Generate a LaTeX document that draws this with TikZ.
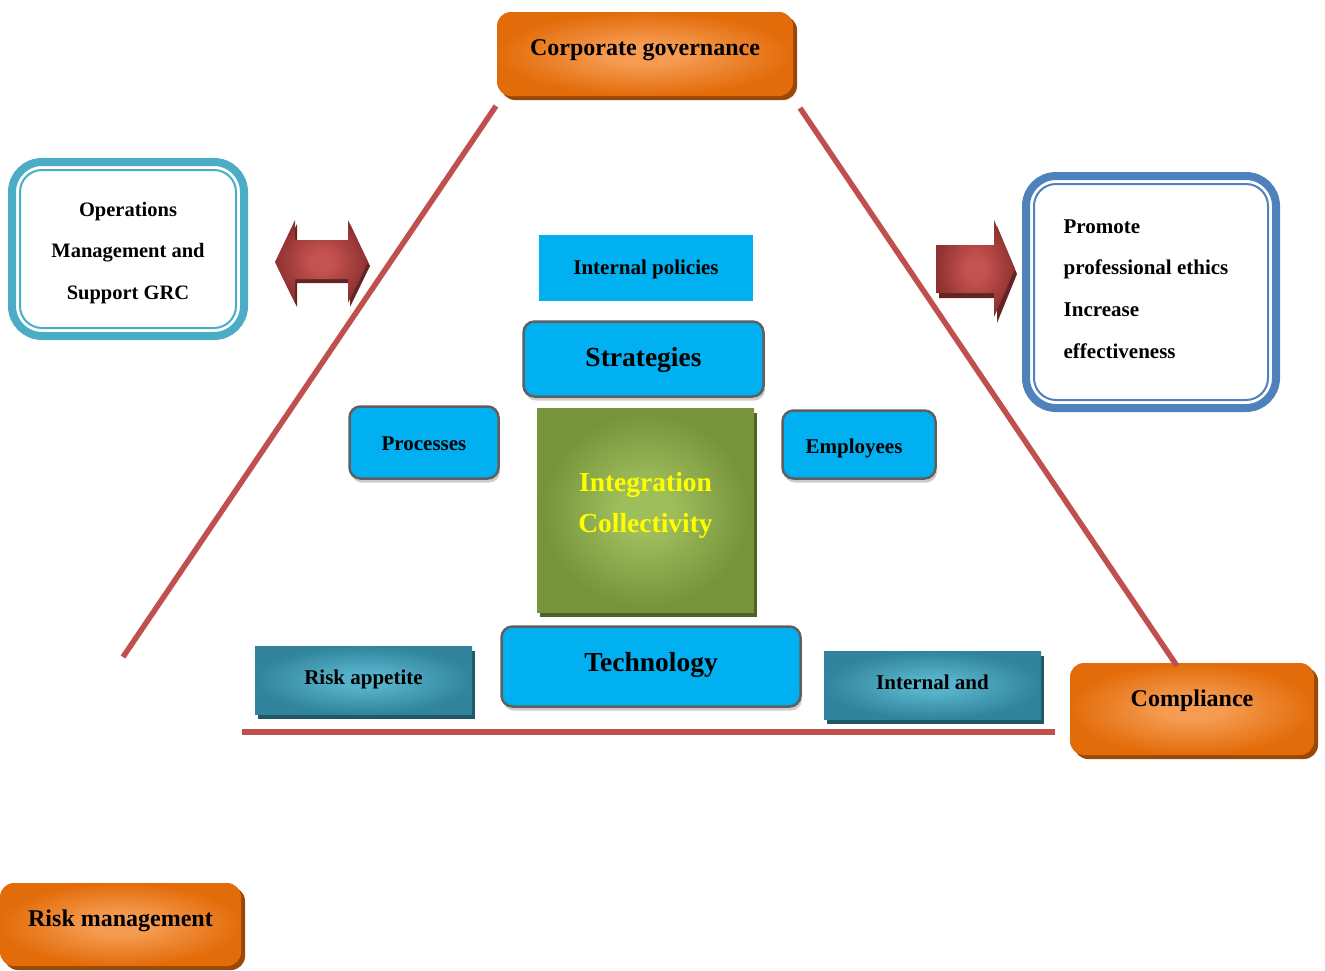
\documentclass[tikz,border=0pt]{standalone}
\usepackage{fontspec}
\setmainfont{Liberation Serif}
\usetikzlibrary{shadows}
\definecolor{ordark}{HTML}{E36C0A}
\definecolor{orlight}{HTML}{F59C52}
\definecolor{orshadow}{HTML}{984807}
\definecolor{bluefill}{HTML}{00B0F0}
\definecolor{blueborder}{HTML}{5F5F5F}
\definecolor{grdark}{HTML}{77933C}
\definecolor{grlight}{HTML}{9EBE5C}
\definecolor{grshadow}{HTML}{4F6228}
\definecolor{tldark}{HTML}{31849B}
\definecolor{tllight}{HTML}{55B2CA}
\definecolor{tlshadow}{HTML}{215868}
\definecolor{rddark}{HTML}{8E3230}
\definecolor{rdlight}{HTML}{C4524F}
\definecolor{rdshadow}{HTML}{632523}
\definecolor{linered}{HTML}{C0504D}
\definecolor{opsborder}{HTML}{4BACC6}
\definecolor{proborder}{HTML}{4F81BD}
\definecolor{yel}{HTML}{FFFF00}
\pgfdeclareradialshading{orsh}{\pgfpoint{0bp}{0bp}}{color(0bp)=(orlight); color(6bp)=(orlight); color(25bp)=(ordark); color(50bp)=(ordark)}
\pgfdeclareradialshading{grsh}{\pgfpoint{0bp}{0bp}}{color(0bp)=(grlight); color(6bp)=(grlight); color(24bp)=(grdark); color(50bp)=(grdark)}
\pgfdeclareradialshading{tlsh}{\pgfpoint{0bp}{0bp}}{color(0bp)=(tllight); color(6bp)=(tllight); color(25bp)=(tldark); color(50bp)=(tldark)}
\pgfdeclareradialshading{rdsh}{\pgfpoint{0bp}{0bp}}{color(0bp)=(rdlight); color(6bp)=(rdlight); color(25bp)=(rddark); color(50bp)=(rddark)}
\begin{document}
\begin{tikzpicture}[x=1pt,y=1pt,
  orangebox/.style={rounded corners=14pt, shade, shading=orsh, inner sep=0pt,
    drop shadow={shadow xshift=4pt, shadow yshift=-4pt, opacity=1, fill=orshadow}},
  bluebox/.style={rounded corners=11pt, fill=bluefill, draw=blueborder, line width=2.5pt, inner sep=0pt,
    drop shadow={shadow xshift=1.5pt, shadow yshift=-4pt, opacity=1, fill=black!20}},
  tealbox/.style={shade, shading=tlsh, inner sep=0pt,
    drop shadow={shadow xshift=3pt, shadow yshift=-5pt, opacity=1, fill=tlshadow}},
  greenbox/.style={shade, shading=grsh, inner sep=0pt,
    drop shadow={shadow xshift=3pt, shadow yshift=-5pt, opacity=1, fill=grshadow}},
  dblbox/.style={rounded corners=30pt, line width=8pt, fill=white, outer sep=0pt, inner sep=0pt},
  txa/.style={font=\bfseries\fontsize{24}{28}\selectfont, inner sep=0pt, text=black},
  txb/.style={font=\bfseries\fontsize{27.5}{32}\selectfont, inner sep=0pt, text=black},
  txc/.style={font=\bfseries\fontsize{21}{25}\selectfont, inner sep=0pt, text=black},
  redline/.style={draw=linered, line width=5.5pt}
]
\useasboundingbox (0,0) rectangle (1325,-970);

% orange boxes
\node[orangebox, minimum width=296pt, minimum height=84pt] (corp) at (645,-54) {};
\node[txa] (corpt) at ([yshift=4pt]corp.center) {Corporate governance};
\node[orangebox, minimum width=244pt, minimum height=92pt] (comp) at (1192,-709) {};
\node[txa] (compt) at ([yshift=8pt]comp.center) {Compliance};
\node[orangebox, minimum width=241pt, minimum height=83pt] (risk) at (120.5,-924.5) {};
\node[txa] (riskt) at ([yshift=3.5pt]risk.center) {Risk management};

% double-bordered boxes
\node[dblbox, draw=opsborder, minimum width=232pt, minimum height=174pt] (ops) at (128,-249) {};
\draw[opsborder, line width=2pt, rounded corners=22pt]
  ([shift={(8pt,-8pt)}]ops.north west) rectangle ([shift={(-8pt,8pt)}]ops.south east);
\node[align=center, inner sep=0pt, font=\bfseries\fontsize{20.5}{41.5}\selectfont] (opst)
  at ([yshift=-4pt]ops.center) {Operations\\Management and\\Support GRC};
\node[dblbox, draw=proborder, minimum width=250pt, minimum height=232pt] (pro) at (1151,-292) {};
\draw[proborder, line width=2pt, rounded corners=22pt]
  ([shift={(8pt,-8pt)}]pro.north west) rectangle ([shift={(-8pt,8pt)}]pro.south east);
\node[align=left, inner sep=0pt, font=\bfseries\fontsize{21}{41.7}\selectfont] (prot)
  at ([xshift=-5pt,yshift=3pt]pro.center) {Promote\\professional ethics\\Increase\\effectiveness};

% block arrows
\fill[rdshadow] (277,-266) -- (297,-224) -- (297,-244) -- (350,-244) -- (350,-224) -- (370,-266)
  -- (350,-307) -- (350,-283) -- (297,-283) -- (297,-307) -- cycle;
\shade[shading=rdsh] (275,-262) -- (295,-220) -- (295,-240) -- (348,-240) -- (348,-220) -- (368,-262)
  -- (348,-303) -- (348,-279) -- (295,-279) -- (295,-303) -- cycle;
\fill[rdshadow] (939,-250) -- (997,-250) -- (997,-226) -- (1017,-274) -- (997,-323) -- (997,-298) -- (939,-298) -- cycle;
\shade[shading=rdsh] (936,-245) -- (994,-245) -- (994,-220) -- (1015,-269) -- (994,-317) -- (994,-293) -- (936,-293) -- cycle;

% centre blocks
\node[fill=bluefill, minimum width=214pt, minimum height=66pt, inner sep=0pt] (pol) at (646,-268) {};
\node[txc] (polt) at ([yshift=-1pt]pol.center) {Internal policies};
\node[bluebox, minimum width=240pt, minimum height=75pt] (str) at (643.5,-359) {};
\node[txb] (strt) at ([yshift=-1pt]str.center) {Strategies};
\node[bluebox, minimum width=149pt, minimum height=72pt] (proc) at (424,-442.5) {};
\node[txc] (proct) at ([yshift=-1pt]proc.center) {Processes};
\node[bluebox, minimum width=153pt, minimum height=68pt] (emp) at (859,-444.5) {};
\node[txc] (empt) at ([xshift=-5pt,yshift=-3.5pt]emp.center) {Employees};
\node[greenbox, minimum width=217pt, minimum height=204pt] (grn) at (645.5,-510) {};
\node[font=\bfseries\fontsize{27.5}{41.3}\selectfont, text=yel, align=center, inner sep=0pt] (grnt)
  at ([yshift=4.5pt]grn.center) {Integration\\Collectivity};
\node[bluebox, minimum width=299pt, minimum height=80pt] (tech) at (651,-666.5) {};
\node[txb] (techt) at ([yshift=2pt]tech.center) {Technology};
\node[tealbox, minimum width=217pt, minimum height=68pt] (app) at (363.5,-680) {};
\node[txc] (appt) at ([yshift=1pt]app.center) {Risk appetite};
\node[tealbox, minimum width=217pt, minimum height=68pt] (intl) at (932.5,-685) {};
\node[txc] (intlt) at ([yshift=3pt]intl.center) {Internal and};

% triangle lines
\coordinate (ltop) at (496,-106);
\coordinate (lbot) at (123,-657);
\coordinate (rtop) at (800,-108);
\coordinate (rbot) at (1177,-666);
\coordinate (bl) at (242,-731.5);
\coordinate (br) at (1055,-731.5);
\draw[redline] (ltop) -- (lbot);
\draw[redline] (rtop) -- (rbot);
\draw[redline, line width=6pt] (bl) -- (br);
\end{tikzpicture}
\end{document}
